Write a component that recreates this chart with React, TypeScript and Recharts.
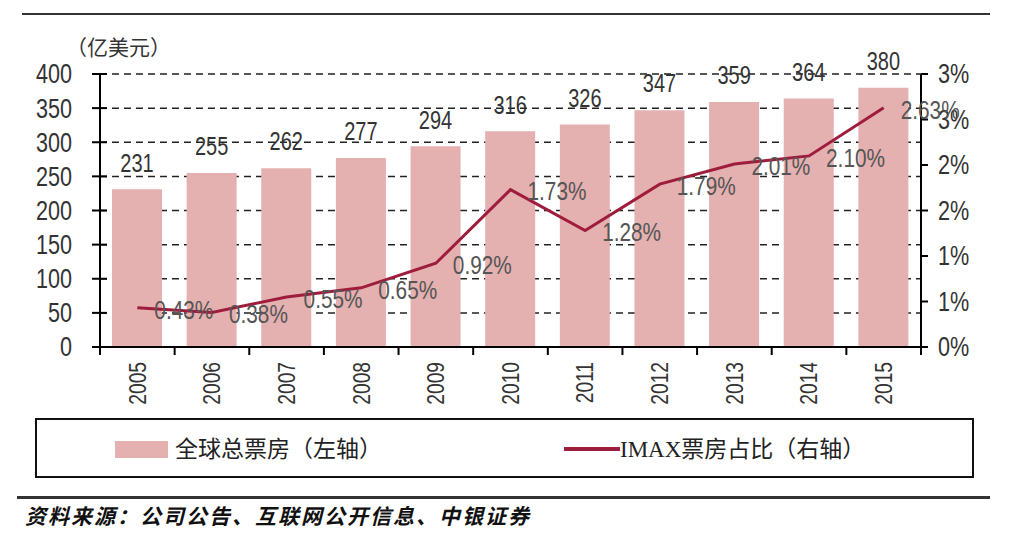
import React from "react";
import {
  ComposedChart,
  Bar,
  Line,
  XAxis,
  YAxis,
  CartesianGrid,
  LabelList,
} from "recharts";

const YEARS = ["2005", "2006", "2007", "2008", "2009", "2010", "2011", "2012", "2013", "2014", "2015"];
const BOX_OFFICE = [231, 255, 262, 277, 294, 316, 326, 347, 359, 364, 380]; // 亿美元
const IMAX_SHARE = [0.43, 0.38, 0.55, 0.65, 0.92, 1.73, 1.28, 1.79, 2.01, 2.1, 2.63]; // %
const LEFT_TICKS = [0, 50, 100, 150, 200, 250, 300, 350, 400];
const RIGHT_TICKS = [0, 0.5, 1, 1.5, 2, 2.5, 3];

const BAR_COLOR = "#e4b0b0";
const LINE_COLOR = "#9e1d3c";
const NUM_FONT = "'Liberation Sans', Arial, sans-serif";
const CJK_FONT = "'Liberation Serif', 'Noto Sans CJK SC', serif";
const SQUEEZE = 0.8; // the source uses a narrow face

const PLOT_LEFT = 100;
const PLOT_RIGHT = 921;
const BAND = (PLOT_RIGHT - PLOT_LEFT) / YEARS.length;

const data = YEARS.map((year, i) => ({
  year,
  total: BOX_OFFICE[i],
  share: IMAX_SHARE[i],
}));

// narrow text: squeeze horizontally around (x, y)
const Narrow = ({ x, y, anchor, size, fill, rotate, children }: any) => (
  <text
    transform={`translate(${x}, ${y})${rotate ? ` rotate(${rotate})` : ""} scale(${SQUEEZE}, 1)`}
    textAnchor={anchor}
    dominantBaseline="central"
    fontSize={size}
    fontFamily={NUM_FONT}
    fill={fill}
  >
    {children}
  </text>
);

const LeftTick = (props: any) => {
  const { x, y, payload } = props;
  return (
    <g>
      <line x1={x - 8} x2={x + 7} y1={y} y2={y} stroke="#000" strokeWidth={2} />
      <Narrow x={x - 28} y={y} anchor="end" size={27} fill="#333">
        {payload.value}
      </Narrow>
    </g>
  );
};

const RightTick = (props: any) => {
  const { x, y, payload } = props;
  return (
    <Narrow x={x} y={y} anchor="start" size={27} fill="#333">
      {`${Math.round(payload.value)}%`}
    </Narrow>
  );
};

const BottomTick = (props: any) => {
  const { x, y, payload, index } = props;
  return (
    <g>
      <line x1={x - BAND / 2} x2={x - BAND / 2} y1={y} y2={y + 8} stroke="#000" strokeWidth={2} />
      {index === YEARS.length - 1 && (
        <line x1={x + BAND / 2} x2={x + BAND / 2} y1={y} y2={y + 8} stroke="#000" strokeWidth={2} />
      )}
      <Narrow x={x} y={y + 15} rotate={-90} anchor="end" size={24} fill="#333">
        {payload.value}
      </Narrow>
    </g>
  );
};

const BarValue = (props: any) => {
  const { x, y, width, value } = props;
  return (
    <Narrow x={x + width / 2} y={y - 26} anchor="middle" size={25} fill="#333">
      {value}
    </Narrow>
  );
};

const ShareValue = (props: any) => {
  const { x, y, value } = props;
  return (
    <Narrow x={x + 17} y={y + 2} anchor="start" size={26} fill="#555">
      {`${Number(value).toFixed(2)}%`}
    </Narrow>
  );
};

export default function App() {
  return (
    <div
      style={{
        position: "fixed",
        left: 0,
        top: 0,
        width: 1024,
        height: 533,
        background: "#fff",
        overflow: "hidden",
      }}
    >
      {/* top rule */}
      <div style={{ position: "absolute", left: 22, top: 13, width: 968, height: 2, background: "#333" }} />

      {/* unit */}
      <div
        style={{
          position: "absolute",
          left: 66,
          top: 34,
          fontSize: 21,
          lineHeight: "28px",
          fontFamily: CJK_FONT,
          color: "#333",
        }}
      >
        （亿美元）
      </div>

      <div style={{ position: "absolute", left: 0, top: 0 }}>
        <ComposedChart
          width={1024}
          height={420}
          data={data}
          margin={{ top: 74, right: 40, left: 40, bottom: 0 }}
          barCategoryGap={24}
        >
          <CartesianGrid
            yAxisId="left"
            vertical={false}
            stroke="#222"
            strokeWidth={1.5}
            strokeDasharray="7 5"
          />
          <XAxis
            dataKey="year"
            height={73}
            axisLine={{ stroke: "#000", strokeWidth: 2 }}
            tickLine={false}
            tickSize={0}
            tickMargin={0}
            tick={<BottomTick />}
            interval={0}
          />
          <YAxis
            yAxisId="left"
            orientation="left"
            width={60}
            domain={[0, 400]}
            ticks={LEFT_TICKS}
            axisLine={{ stroke: "#000", strokeWidth: 2 }}
            tickLine={false}
            tickSize={0}
            tickMargin={0}
            tick={<LeftTick />}
            interval={0}
          />
          <YAxis
            yAxisId="right"
            orientation="right"
            width={63}
            domain={[0, 3]}
            ticks={RIGHT_TICKS}
            axisLine={{ stroke: "#000", strokeWidth: 2 }}
            tickLine={{ stroke: "#000", strokeWidth: 2 }}
            tickSize={7}
            tickMargin={10}
            tick={<RightTick />}
            interval={0}
          />
          <Bar yAxisId="left" dataKey="total" fill={BAR_COLOR} barSize={50} isAnimationActive={false}>
            <LabelList dataKey="total" content={<BarValue />} />
          </Bar>
          <Line
            yAxisId="right"
            dataKey="share"
            stroke={LINE_COLOR}
            strokeWidth={3}
            dot={false}
            activeDot={false}
            isAnimationActive={false}
          >
            <LabelList dataKey="share" content={<ShareValue />} />
          </Line>
        </ComposedChart>
      </div>

      {/* legend */}
      <div
        style={{
          position: "absolute",
          left: 35,
          top: 418,
          width: 935,
          height: 56,
          border: "2px solid #111",
        }}
      />
      <div style={{ position: "absolute", left: 115, top: 441, width: 53, height: 17, background: BAR_COLOR }} />
      <div
        style={{
          position: "absolute",
          left: 175,
          top: 434,
          fontSize: 23,
          lineHeight: "32px",
          fontFamily: CJK_FONT,
          color: "#222",
          whiteSpace: "nowrap",
        }}
      >
        全球总票房（左轴）
      </div>
      <div style={{ position: "absolute", left: 564, top: 447, width: 56, height: 4, background: LINE_COLOR }} />
      <div
        style={{
          position: "absolute",
          left: 620,
          top: 434,
          fontSize: 23,
          lineHeight: "32px",
          fontFamily: CJK_FONT,
          color: "#222",
          whiteSpace: "nowrap",
        }}
      >
        IMAX票房占比（右轴）
      </div>

      {/* bottom rule + source */}
      <div style={{ position: "absolute", left: 17, top: 496, width: 973, height: 3, background: "#333" }} />
      <div
        style={{
          position: "absolute",
          left: 25,
          top: 503,
          fontSize: 21,
          lineHeight: "28px",
          fontFamily: CJK_FONT,
          fontStyle: "italic",
          fontWeight: "bold",
          letterSpacing: 2,
          color: "#111",
          whiteSpace: "nowrap",
        }}
      >
        资料来源：公司公告、互联网公开信息、中银证券
      </div>
    </div>
  );
}
